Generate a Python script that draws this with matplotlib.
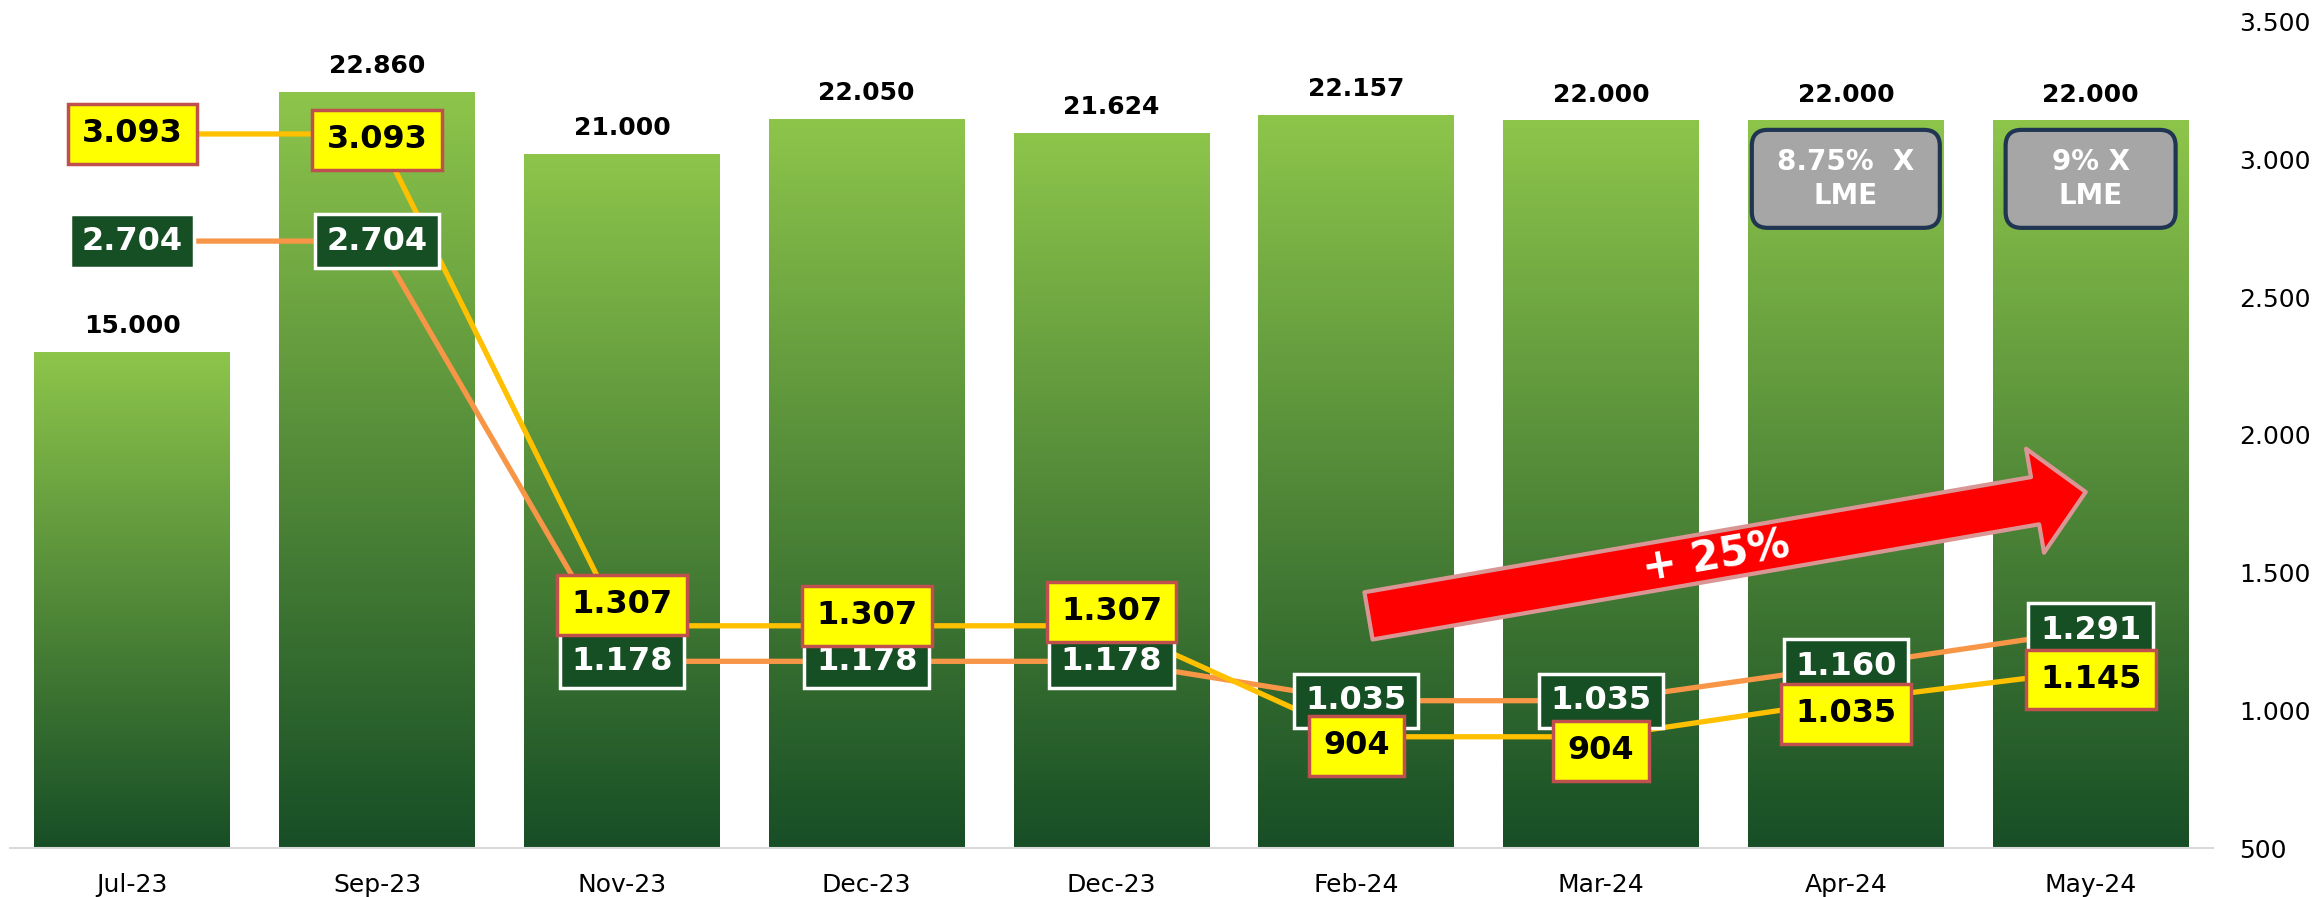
import numpy as np
import matplotlib.pyplot as plt
from matplotlib.colors import LinearSegmentedColormap
from matplotlib.patches import FancyBboxPatch

# data
months = ['Jul-23', 'Sep-23', 'Nov-23', 'Dec-23', 'Dec-23', 'Feb-24', 'Mar-24', 'Apr-24', 'May-24']
volume = [15000, 22860, 21000, 22050, 21624, 22157, 22000, 22000, 22000]
price_yellow = [3093, 3093, 1307, 1307, 1307, 904, 904, 1035, 1145]
price_orange = [2704, 2704, 1178, 1178, 1178, 1035, 1035, 1160, 1291]
note_idx = [7, 8]
note_text = ['8.75%  X\nLME', '9% X\nLME']
arrow_text = '+ 25%'

# label nudges for the yellow boxes (pixels, + = up)
yellow_dy = [0, -6, 21, 10, 14, -9, -14, -13, -9]

def fmt(v):
    return f'{v:,}'.replace(',', '.')

W, H, DPI = 23.18, 8.97, 100
fig = plt.figure(figsize=(W, H), dpi=DPI)
ax = fig.add_axes([0.0043, 0.0546, 0.9504, 0.921])
x = np.arange(len(months))

# bars with vertical gradient
bars = ax.bar(x, volume, width=0.8, color='none', edgecolor='none', zorder=1)
cmap = LinearSegmentedColormap.from_list('grn', ['#174E26', '#8DC54B'])
grad = np.linspace(0, 1, 256).reshape(-1, 1)
for r in bars:
    x0, w, h = r.get_x(), r.get_width(), r.get_height()
    ax.imshow(grad, extent=[x0, x0 + w, 0, h], origin='lower', cmap=cmap,
              aspect='auto', zorder=1)
ax.set_xlim(-0.5, 8.5)
ax.set_ylim(0, 25000)

for xi, v in zip(x, volume):
    ax.annotate(fmt(v), (xi, v), xytext=(0, 14), textcoords='offset points',
                ha='center', va='baseline', fontsize=18, fontweight='bold')

ax.set_xticks(x)
ax.set_xticklabels(months, fontsize=18)
ax.tick_params(axis='x', length=0, pad=18)
ax.set_yticks([])
for s in ['top', 'left', 'right']:
    ax.spines[s].set_visible(False)
ax.spines['bottom'].set_color('#D9D9D9')
ax.spines['bottom'].set_linewidth(1.5)

# grey LME notes
px_x = 0.9504 * W * DPI / 9
px_y = 0.921 * H * DPI / 25000
note_w = [188, 170]
note_h = 98
note_y = 20250
for i, t, wpx in zip(note_idx, note_text, note_w):
    bw = wpx / px_x
    bh = note_h / px_y
    box = FancyBboxPatch((i - bw / 2, note_y - bh / 2), bw, bh,
                         boxstyle='round,pad=0,rounding_size=%f' % (16 / px_x),
                         mutation_aspect=px_x / px_y,
                         fc='#A6A6A6', ec='#1F3552', lw=3, zorder=3)
    ax.add_patch(box)
    ax.text(i, note_y, t, ha='center', va='center', color='white',
            fontsize=20, fontweight='bold', linespacing=1.3, zorder=4)

# price lines
ax2 = ax.twinx()
ax2.set_ylim(500, 3500)
ax2.set_yticks(range(500, 3501, 500))
ax2.set_yticklabels([fmt(v) for v in range(500, 3501, 500)], fontsize=18)
ax2.tick_params(axis='y', length=0, pad=19)
for s in ax2.spines.values():
    s.set_visible(False)

ax2.plot(x, price_orange, color='#F79646', lw=3.8, zorder=2)
ax2.plot(x, price_yellow, color='#FFC000', lw=3.8, zorder=3)

for xi, v in zip(x, price_orange):
    ax2.annotate(fmt(v), (xi, v), ha='center', va='center', fontsize=23,
                 fontweight='bold', color='white', zorder=4,
                 bbox=dict(boxstyle='square,pad=0.36', fc='#174F24', ec='white', lw=2.5))
for xi, v, dy in zip(x, price_yellow, yellow_dy):
    ax2.annotate(fmt(v), (xi, v), xytext=(0, dy * 0.72), textcoords='offset points',
                 ha='center', va='center', fontsize=23, fontweight='bold',
                 color='black', zorder=5,
                 bbox=dict(boxstyle='square,pad=0.45', fc='#FFFF00', ec='#C0504D', lw=2.5))

# red growth arrow
ax2.annotate('', xy=(7.98, 1793), xytext=(5.05, 1343),
             arrowprops=dict(arrowstyle='simple,head_length=37,head_width=76,tail_width=34.5',
                             mutation_scale=1, fc='#FF0000', ec='#D99694', lw=3,
                             shrinkA=0, shrinkB=0), zorder=6)
ax2.text(6.47, 1557, arrow_text, rotation=9.8, rotation_mode='anchor',
         ha='center', va='center', fontsize=30, fontweight='bold',
         color='white', zorder=7)

fig.savefig('out.png', dpi=DPI)
